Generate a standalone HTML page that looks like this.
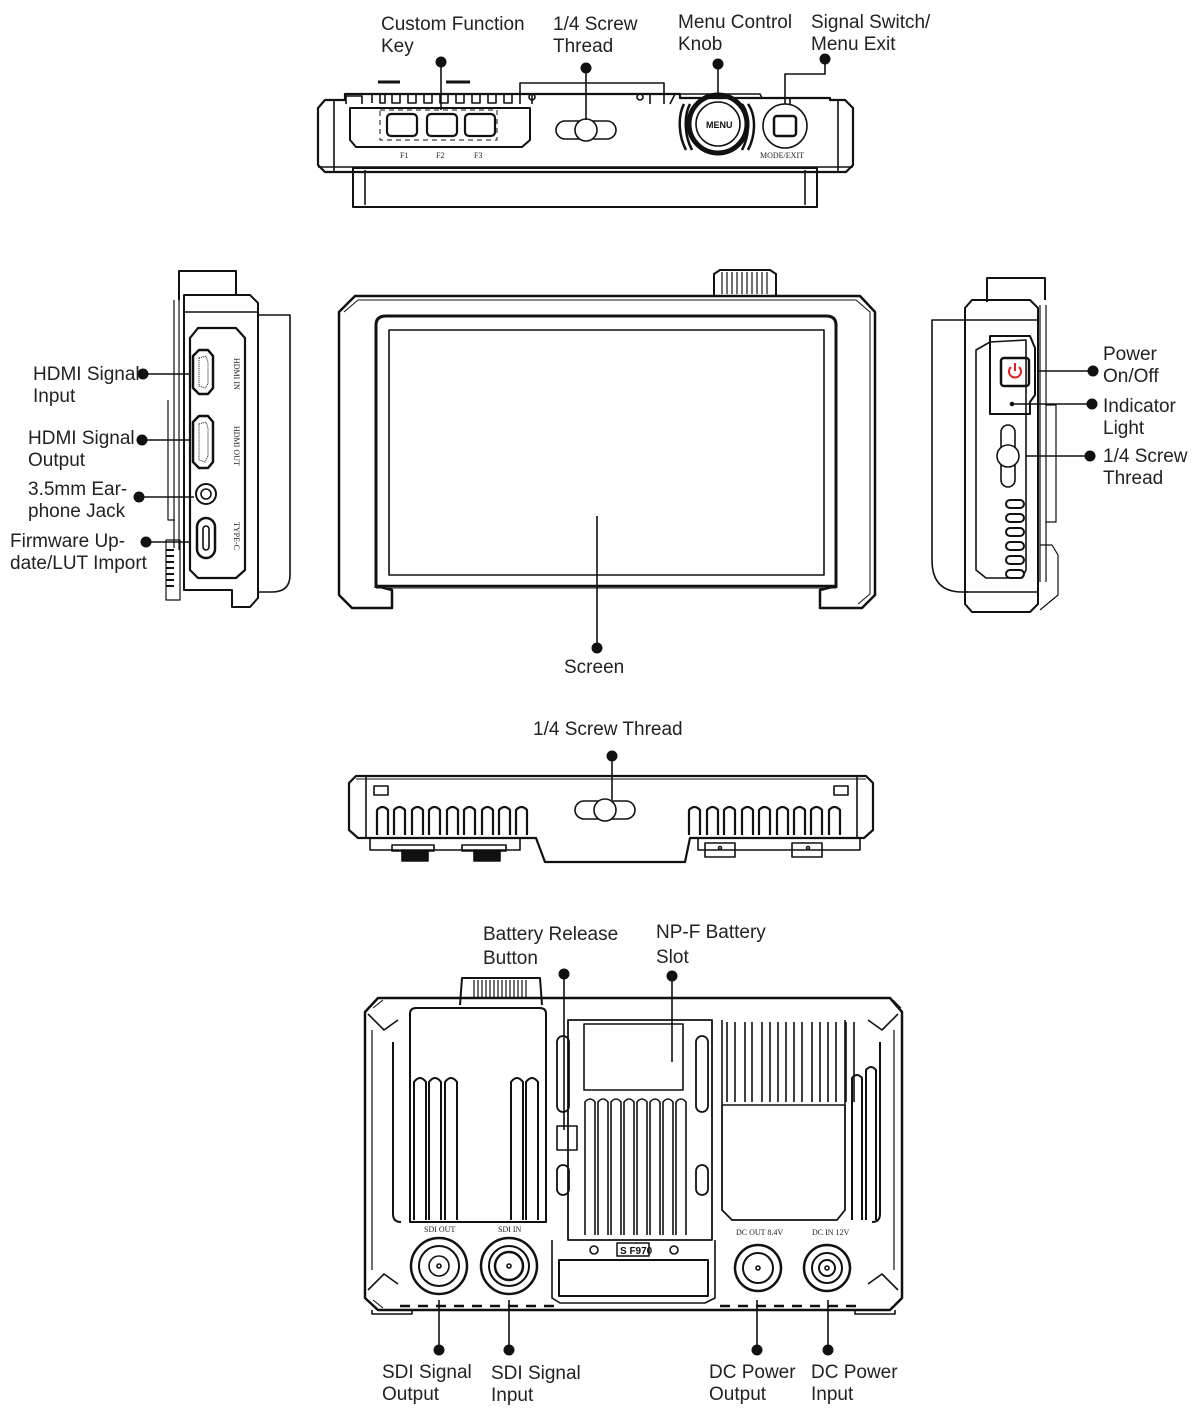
<!DOCTYPE html>
<html><head><meta charset="utf-8"><style>
html,body{margin:0;padding:0;background:#fff}
svg{display:block}
svg text{font-family:"Liberation Sans",sans-serif;fill:#222;stroke:none}
.l{font-size:19px}
.s{font-size:8px;font-family:"Liberation Serif",serif}
</style></head><body>
<svg width="1200" height="1418" viewBox="0 0 1200 1418" xmlns="http://www.w3.org/2000/svg" fill="none" stroke="#111" stroke-width="1.6" stroke-linejoin="round">

<!-- ============ TOP VIEW ============ -->
<g>
<rect x="353" y="168" width="464" height="39" stroke-width="2"/>
<line x1="365" y1="170" x2="365" y2="205"/><line x1="805" y1="170" x2="805" y2="205"/>
<path d="M318 108 L325 100 L345 100 L345 94 L680 94 L680 98 L830 98 L830 100 L845 100 L853 108 L853 165 L846 172 L325 172 L318 165 Z" stroke-width="2.2"/>
<line x1="334" y1="100" x2="334" y2="172"/><line x1="838" y1="100" x2="838" y2="172"/>
<line x1="318" y1="167" x2="853" y2="167"/>
<path d="M378 82 L400 82 M446 82 L470 82" stroke-width="3"/>
<path d="M346 104 L346 96 L362 96 L362 104 M372 103 L372 94 M380 94 L380 103 L385 103 L385 94 M392 94 L392 103 L400 103 L400 94 M408 94 L408 103 L416 103 L416 94 M424 94 L424 103 L432 103 L432 94 M440 94 L440 103 L448 103 L448 94 M456 94 L456 103 L464 103 L464 94 M472 94 L472 103 L480 103 L480 94 M488 94 L488 103 L496 103 L496 94 M504 94 L504 103 L512 103 L512 94"/>
<path d="M350 108 L530 108 L530 140 L522 147 L356 147 L350 140 Z" stroke-width="2"/>
<rect x="380" y="110" width="117" height="30" stroke-dasharray="5 4" stroke-width="1"/>
<rect x="387" y="114" width="30" height="22" rx="4" stroke-width="2.2"/>
<rect x="427" y="114" width="30" height="22" rx="4" stroke-width="2.2"/>
<rect x="465" y="114" width="30" height="22" rx="4" stroke-width="2.2"/>
<text class="s" x="400" y="158">F1</text><text class="s" x="436" y="158">F2</text><text class="s" x="474" y="158">F3</text>
<path d="M520 104 L520 83 L664 83 L664 104 M532 104 L532 93 M650 104 L650 93"/>
<circle cx="532" cy="97" r="3"/><circle cx="640" cy="97" r="3"/>
<rect x="556" y="121" width="60" height="18" rx="9"/>
<circle cx="586" cy="130" r="11" fill="#fff"/>
<path d="M670 104 L675 94 L760 94 L762 98 L790 98 L790 104" />
<path d="M684 104 C678 115 678 135 686 150 M690 104 C684 115 684 135 692 150 M748 104 C756 115 756 135 748 150 M742 104 C750 115 750 135 742 150" stroke-width="2.5"/>
<circle cx="718" cy="124" r="29" stroke-width="5"/>
<circle cx="718" cy="124" r="22"/>
<text x="706" y="128" style="font-size:9px;font-weight:bold;fill:#111">MENU</text>
<circle cx="785" cy="126" r="22"/>
<rect x="774" y="116" width="22" height="20" rx="3" stroke-width="2.5"/>
<text class="s" x="760" y="158">MODE/EXIT</text>
<path d="M785 104 L785 74 L825 74 L825 59"/>
<line x1="441" y1="62" x2="441" y2="110"/><line x1="586" y1="68" x2="586" y2="120"/><line x1="718" y1="64" x2="718" y2="95"/>
<g fill="#111" stroke="none"><circle cx="441" cy="62" r="5.5"/><circle cx="586" cy="68" r="5.5"/><circle cx="718" cy="64" r="5.5"/><circle cx="825" cy="59" r="5.5"/></g>
</g>
<text class="l" x="381" y="30">Custom Function</text><text class="l" x="381" y="52">Key</text>
<text class="l" x="553" y="30">1/4 Screw</text><text class="l" x="553" y="52">Thread</text>
<text class="l" x="678" y="28">Menu Control</text><text class="l" x="678" y="50">Knob</text>
<text class="l" x="811" y="28">Signal Switch/</text><text class="l" x="811" y="50">Menu Exit</text>

<!-- ============ FRONT VIEW ============ -->
<g>
<path d="M714 296 L714 274 L720 270 L770 270 L776 274 L776 296" stroke-width="2"/>
<path d="M722 272 v22 M727 272 v22 M732 272 v22 M737 272 v22 M742 272 v22 M747 272 v22 M752 272 v22 M757 272 v22 M762 272 v22 M767 272 v22" stroke-width="1.2"/>
<path d="M355 296 L860 296 L875 312 L875 595 L862 608 L820 608 L820 590 L836 586 L376 586 L392 590 L392 608 L352 608 L339 595 L339 312 Z" stroke-width="2.5"/>
<path d="M344 312 L358 300 L856 300 L870 312 L870 594 L858 604" stroke-width="1"/>
<path d="M376 325 Q376 316 386 316 L826 316 Q836 316 836 325 L836 588 M376 588 L376 325" stroke-width="3"/>
<rect x="389" y="330" width="435" height="245" stroke-width="1.6"/>
<line x1="376" y1="588" x2="836" y2="588" stroke-width="1"/>
<line x1="597" y1="516" x2="597" y2="648"/>
<circle cx="597" cy="648" r="5.5" fill="#111" stroke="none"/>
</g>
<text class="l" x="564" y="673">Screen</text>

<!-- ============ LEFT SIDE ============ -->
<g>
<path d="M179 300 L179 271 L236 271 L236 295" stroke-width="2"/>
<path d="M258 315 L290 315 L290 575 Q290 592 272 592 L258 592"/>
<path d="M184 295 L250 295 L258 303 L258 598 L250 607 L232 607 L232 590 L184 590 Z" stroke-width="2"/>
<path d="M174 300 L174 548 M179 300 L179 550" stroke-width="1.2"/>
<path d="M168 400 L168 520 L175 520" stroke-width="1.2"/>
<rect x="166" y="540" width="14" height="60" stroke-width="1.2"/>
<path d="M166 550 h8 M166 556 h8 M166 562 h8 M166 568 h8 M166 574 h8 M166 580 h8 M166 586 h8" stroke-width="2"/>
<line x1="184" y1="312" x2="258" y2="312"/>
<path d="M190 338 L198 328 L236 328 L245 338 L245 570 L236 578 L198 578 L190 570 Z" stroke-width="2.2"/>
<path d="M193 356 L199 350 L208 350 L213 356 L213 388 L208 394 L199 394 L193 388 Z" stroke-width="2.5"/>
<path d="M199 358 L206 356 L208 362 L208 384 L205 388 L199 386 Z" stroke-width="1" stroke-dasharray="1 1"/>
<path d="M193 422 L199 416 L208 416 L213 422 L213 462 L208 468 L199 468 L193 462 Z" stroke-width="2.5"/>
<path d="M199 424 L206 422 L208 428 L208 456 L205 462 L199 460 Z" stroke-width="1" stroke-dasharray="1 1"/>
<circle cx="206" cy="494" r="10" stroke-width="2"/><circle cx="206" cy="494" r="5"/>
<rect x="197" y="518" width="18" height="40" rx="9" stroke-width="2.5"/>
<rect x="203" y="526" width="6" height="24" rx="3"/>
<text class="s" transform="translate(234,358) rotate(90)">HDMI IN</text>
<text class="s" transform="translate(234,426) rotate(90)">HDMI OUT</text>
<text class="s" transform="translate(234,522) rotate(90)">TYPE-C</text>
<line x1="143" y1="374" x2="190" y2="374"/>
<line x1="142" y1="440" x2="190" y2="440"/>
<line x1="139" y1="497" x2="194" y2="497"/>
<line x1="146" y1="542" x2="190" y2="542"/>
<g fill="#111" stroke="none"><circle cx="143" cy="374" r="5.5"/><circle cx="142" cy="440" r="5.5"/><circle cx="139" cy="497" r="5.5"/><circle cx="146" cy="542" r="5.5"/></g>
</g>
<text class="l" x="33" y="380">HDMI Signal</text><text class="l" x="33" y="402">Input</text>
<text class="l" x="28" y="444">HDMI Signal</text><text class="l" x="28" y="466">Output</text>
<text class="l" x="28" y="495">3.5mm Ear-</text><text class="l" x="28" y="517">phone Jack</text>
<text class="l" x="10" y="547">Firmware Up-</text><text class="l" x="10" y="569">date/LUT Import</text>

<!-- ============ RIGHT SIDE ============ -->
<g>
<path d="M987 302 L987 278 L1045 278 L1045 300" stroke-width="2"/>
<path d="M965 320 L932 320 L932 560 Q932 592 962 592 L968 592"/>
<path d="M972 300 L1030 300 L1038 308 L1038 604 L1030 612 L972 612 L965 604 L965 308 Z" stroke-width="2"/>
<line x1="965" y1="320" x2="1038" y2="320"/><line x1="965" y1="592" x2="1038" y2="592"/>
<path d="M1040 305 L1040 582 M1046 305 L1046 582" stroke-width="1.2"/>
<path d="M1046 405 L1056 405 L1056 522 L1046 522" stroke-width="1.2"/>
<path d="M1040 545 L1052 545 L1058 555 L1058 595 L1040 610" stroke-width="1.2"/>
<path d="M990 342 L976 350 L976 570 L986 578 L1022 578 L1026 570 L1026 340 Z" stroke-width="1.6"/>
<path d="M990 336 L1030 336 L1035 348 L1035 395 L1030 402 L1030 414 L990 414 Z" stroke-width="2"/>
<rect x="1001" y="358" width="28" height="28" rx="3" stroke-width="2.5"/>
<path d="M1011 367 A6 6 0 1 0 1019 367 M1015 363 L1015 371" stroke="#e02020" stroke-width="2"/>
<circle cx="1012" cy="404" r="1.5" fill="#111"/>
<rect x="1001" y="425" width="14" height="62" rx="7"/>
<circle cx="1008" cy="456" r="11" fill="#fff"/>
<rect x="1006" y="500" width="18" height="8" rx="4" stroke-width="2"/>
<rect x="1006" y="514" width="18" height="8" rx="4" stroke-width="2"/>
<rect x="1006" y="528" width="18" height="8" rx="4" stroke-width="2"/>
<rect x="1006" y="542" width="18" height="8" rx="4" stroke-width="2"/>
<rect x="1006" y="556" width="18" height="8" rx="4" stroke-width="2"/>
<rect x="1006" y="570" width="18" height="8" rx="4" stroke-width="2"/>
<line x1="1038" y1="371" x2="1093" y2="371"/>
<line x1="1012" y1="404" x2="1092" y2="404"/>
<line x1="1026" y1="456" x2="1090" y2="456"/>
<g fill="#111" stroke="none"><circle cx="1093" cy="371" r="5.5"/><circle cx="1092" cy="404" r="5.5"/><circle cx="1090" cy="456" r="5.5"/></g>
</g>
<text class="l" x="1103" y="360">Power</text><text class="l" x="1103" y="382">On/Off</text>
<text class="l" x="1103" y="412">Indicator</text><text class="l" x="1103" y="434">Light</text>
<text class="l" x="1103" y="462">1/4 Screw</text><text class="l" x="1103" y="484">Thread</text>

<!-- ============ BOTTOM VIEW ============ -->
<g>
<text class="l" x="533" y="735">1/4 Screw Thread</text>
<path d="M356 776 L866 776 L873 783 L873 830 L864 838 L690 838 L685 862 L545 862 L536 838 L358 838 L349 830 L349 783 Z" stroke-width="2.2"/>
<line x1="366" y1="777" x2="366" y2="838"/><line x1="857" y1="777" x2="857" y2="838"/>
<line x1="356" y1="779" x2="866" y2="779" stroke-width="1"/>
<rect x="374" y="786" width="14" height="9"/><rect x="834" y="786" width="14" height="9"/>
<path d="M377 835 v-25 q5.5 -6 11 0 v25 M394 835 v-25 q5.5 -6 11 0 v25 M412 835 v-25 q5.5 -6 11 0 v25 M429 835 v-25 q5.5 -6 11 0 v25 M447 835 v-25 q5.5 -6 11 0 v25 M464 835 v-25 q5.5 -6 11 0 v25 M482 835 v-25 q5.5 -6 11 0 v25 M499 835 v-25 q5.5 -6 11 0 v25 M516 835 v-25 q5.5 -6 11 0 v25" stroke-width="2.2"/>
<path d="M689 835 v-25 q5.5 -6 11 0 v25 M707 835 v-25 q5.5 -6 11 0 v25 M724 835 v-25 q5.5 -6 11 0 v25 M742 835 v-25 q5.5 -6 11 0 v25 M759 835 v-25 q5.5 -6 11 0 v25 M777 835 v-25 q5.5 -6 11 0 v25 M794 835 v-25 q5.5 -6 11 0 v25 M811 835 v-25 q5.5 -6 11 0 v25 M829 835 v-25 q5.5 -6 11 0 v25" stroke-width="2.2"/>
<rect x="575" y="801" width="60" height="18" rx="9"/>
<circle cx="605" cy="810" r="11" fill="#fff"/>
<line x1="612" y1="756" x2="612" y2="800"/>
<circle cx="612" cy="756" r="5.5" fill="#111" stroke="none"/>
<path d="M370 838 v12 h150 v-12 M698 838 v12 h162 v-12"/>
<rect x="392" y="845" width="42" height="6"/><rect x="462" y="845" width="44" height="6"/>
<rect x="402" y="851" width="26" height="10" fill="#111"/><rect x="474" y="851" width="26" height="10" fill="#111"/>
<rect x="705" y="843" width="30" height="14"/><rect x="792" y="843" width="30" height="14"/>
<circle cx="720" cy="848" r="1.5"/><circle cx="808" cy="848" r="1.5"/>
</g>

<!-- ============ BACK VIEW ============ -->
<g>
<path d="M378 998 L890 998 L902 1012 L902 1298 L890 1310 L378 1310 L365 1298 L365 1012 Z" stroke-width="2.5"/>
<path d="M373 1008 L383 1000 M893 1000 L901 1008 M373 1300 L383 1308 M893 1308 L901 1300" stroke-width="1"/>
<path d="M368 1014 L384 1030 L398 1020 M898 1014 L882 1030 L868 1020 M368 1290 L384 1274 L398 1284 M898 1290 L882 1274 L868 1284" stroke-width="1.6"/>
<path d="M372 1030 L372 1270 M894 1030 L894 1270" stroke-width="1.2"/>
<path d="M460 1005 L462 978 L540 978 L542 1005" stroke-width="2"/>
<path d="M474 980 v18 M478 980 v18 M482 980 v18 M486 980 v18 M490 980 v18 M494 980 v18 M498 980 v18 M502 980 v18 M506 980 v18 M510 980 v18 M514 980 v18 M518 980 v18 M522 980 v18 M526 980 v18" stroke-width="1.2"/>
<path d="M410 1014 Q410 1008 416 1008 L540 1008 Q546 1008 546 1014 L546 1222 L410 1222 Z" stroke-width="2"/>
<path d="M393 1042 v172 q0 8 8 8 M880 1042 v172 q0 8 -8 8" stroke-width="2"/>
<path d="M414 1220 v-138 q6 -8 12 0 v138 M429 1220 v-138 q6 -8 12 0 v138 M445 1220 v-138 q6 -8 12 0 v138 M511 1220 v-138 q6 -8 12 0 v138 M526 1220 v-138 q6 -8 12 0 v138" stroke-width="2"/>
<path d="M568 1020 L568 1240 L712 1240 L712 1020 Z" stroke-width="1.8"/>
<rect x="584" y="1024" width="99" height="66" stroke-width="1.6"/>
<path d="M585 1235 v-133 q5 -6 10 0 v133 M598 1235 v-133 q5 -6 10 0 v133 M611 1235 v-133 q5 -6 10 0 v133 M624 1235 v-133 q5 -6 10 0 v133 M637 1235 v-133 q5 -6 10 0 v133 M650 1235 v-133 q5 -6 10 0 v133 M663 1235 v-133 q5 -6 10 0 v133 M676 1235 v-133 q5 -6 10 0 v133" stroke-width="1.6"/>
<rect x="557" y="1036" width="12" height="76" rx="6" stroke-width="1.8"/><rect x="696" y="1036" width="12" height="76" rx="6" stroke-width="1.8"/>
<rect x="557" y="1126" width="20" height="24" stroke-width="1.6"/>
<rect x="557" y="1165" width="12" height="30" rx="6" stroke-width="1.8"/><rect x="696" y="1165" width="12" height="30" rx="6" stroke-width="1.8"/>
<path d="M552 1240 L552 1298 L560 1303 L705 1303 L715 1298 L715 1240" stroke-width="1.6"/>
<path d="M559 1260 L708 1260 L708 1296 L559 1296 Z" stroke-width="2"/>
<rect x="617" y="1243" width="32" height="13" fill="#fff" stroke-width="1.5"/>
<text x="620" y="1254" style="font-size:10px;font-weight:bold;fill:#111">S F970</text>
<circle cx="594" cy="1250" r="4"/><circle cx="674" cy="1250" r="4"/>
<path d="M722 1020 L722 1105 L845 1105 L845 1020 M727 1102 v-80 M735 1102 v-80 M745 1102 v-80 M752 1102 v-80 M762 1102 v-80 M770 1102 v-80 M778 1102 v-80 M786 1102 v-80 M794 1102 v-80 M802 1102 v-80 M812 1102 v-80 M820 1102 v-80 M828 1102 v-80 M836 1102 v-80 M846 1102 v-80 M854 1102 v-80" stroke-width="1.6"/>
<path d="M722 1105 L722 1210 L732 1220 L837 1220 L845 1210 L845 1105" stroke-width="1.8"/>
<path d="M852 1220 v-142 q5 -6 10 0 v142 M866 1220 v-150 q5 -6 10 0 v150" stroke-width="2"/>
<text class="s" x="424" y="1232">SDI OUT</text><text class="s" x="498" y="1232">SDI IN</text>
<text class="s" x="736" y="1235">DC OUT 8.4V</text><text class="s" x="812" y="1235">DC IN 12V</text>
<circle cx="439" cy="1266" r="28" stroke-width="2.5"/><circle cx="439" cy="1266" r="20" stroke-width="2"/><circle cx="439" cy="1266" r="10" stroke-width="1.6"/><circle cx="439" cy="1266" r="2"/>
<circle cx="509" cy="1266" r="28" stroke-width="2.5"/><circle cx="509" cy="1266" r="20" stroke-width="2"/><circle cx="509" cy="1266" r="14" stroke-width="2.5"/><circle cx="509" cy="1266" r="2"/>
<circle cx="758" cy="1268" r="23" stroke-width="2.5"/><circle cx="758" cy="1268" r="15" stroke-width="2"/><circle cx="758" cy="1268" r="2"/>
<circle cx="827" cy="1268" r="23" stroke-width="2.5"/><circle cx="827" cy="1268" r="15" stroke-width="2"/><circle cx="827" cy="1268" r="8" stroke-width="2"/><circle cx="827" cy="1268" r="2"/>
<path d="M400 1306 h10 M418 1306 h10 M436 1306 h10 M454 1306 h10 M472 1306 h10 M490 1306 h10 M508 1306 h10 M526 1306 h10 M544 1306 h10 M720 1306 h10 M738 1306 h10 M756 1306 h10 M774 1306 h10 M792 1306 h10 M810 1306 h10 M828 1306 h10 M846 1306 h10" stroke-width="2.5"/>
<path d="M372 1310 v4 h40 v-4 M855 1310 v4 h40 v-4"/>
<line x1="564" y1="974" x2="564" y2="1130"/><line x1="672" y1="976" x2="672" y2="1062"/>
<line x1="439" y1="1300" x2="439" y2="1350"/><line x1="509" y1="1300" x2="509" y2="1350"/>
<line x1="757" y1="1300" x2="757" y2="1350"/><line x1="828" y1="1300" x2="828" y2="1350"/>
<g fill="#111" stroke="none"><circle cx="564" cy="974" r="5.5"/><circle cx="672" cy="976" r="5.5"/><circle cx="439" cy="1350" r="5.5"/><circle cx="509" cy="1350" r="5.5"/><circle cx="757" cy="1350" r="5.5"/><circle cx="828" cy="1350" r="5.5"/></g>
</g>
<text class="l" x="483" y="940">Battery Release</text><text class="l" x="483" y="964">Button</text>
<text class="l" x="656" y="938">NP-F Battery</text><text class="l" x="656" y="963">Slot</text>
<text class="l" x="382" y="1378">SDI Signal</text><text class="l" x="382" y="1400">Output</text>
<text class="l" x="491" y="1379">SDI Signal</text><text class="l" x="491" y="1401">Input</text>
<text class="l" x="709" y="1378">DC Power</text><text class="l" x="709" y="1400">Output</text>
<text class="l" x="811" y="1378">DC Power</text><text class="l" x="811" y="1400">Input</text>
</svg>
</body></html>
